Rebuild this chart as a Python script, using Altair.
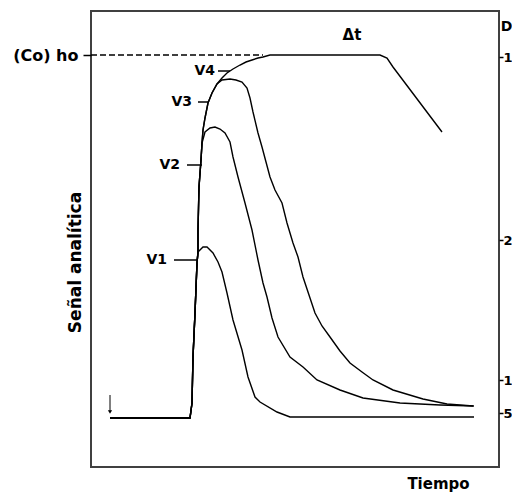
import altair as alt
import pandas as pd

FONT = "DejaVu Sans"

# ---- data (tiempo t, señal s; arbitrary units) ----
rise_t = [19, 99, 101, 102, 104, 106, 107]
rise_s = [0, 0, 15, 61, 105, 155, 166]

v1_t = [108, 112, 116, 122, 127, 131, 136, 142, 151, 157, 164, 169, 186, 199, 383]
v1_s = [167, 171, 171, 165, 156, 146, 125, 98, 68, 41, 21, 16, 6, 1, 1]

rise2_t = [107, 108, 110, 111]
rise2_s = [188, 231, 258, 275]

v2_t = [114, 119, 124, 129, 134, 139, 142, 147, 154, 161, 167, 172, 176, 181, 187,
        199, 212, 226, 249, 272, 309, 349, 383]
v2_s = [286, 290, 291, 289, 285, 276, 261, 241, 215, 188, 158, 135, 121, 100, 81,
        61, 51, 38, 28, 20, 15, 13, 12]

rise3_t = [112, 114, 117, 121, 126]
rise3_s = [288, 300, 315, 325, 334]

v3_t = [131, 139, 145, 151, 156, 159, 162, 167, 171, 175, 179, 184, 191, 196, 202,
        207, 212, 218, 224, 231, 239, 249, 259, 271, 282, 302, 332, 356, 382]
v3_s = [338, 339, 338, 336, 330, 320, 306, 285, 271, 256, 241, 228, 215, 195, 175,
        161, 141, 123, 105, 92, 81, 67, 55, 46, 38, 28, 19, 14, 12]

v4_t = [131, 136, 142, 149, 155, 161, 167, 172, 179, 289, 296, 302, 351]
v4_s = [340, 345, 349, 353, 356, 358, 360, 361, 363, 363, 360, 351, 286]

ho_level = 363
ho_dash_end = 172

label_names = ["V1", "V2", "V3", "V4"]
label_text_t = [76, 89, 101, 124]
label_tick_t0 = [83, 96, 107, 127]
label_tick_t1 = [106, 111, 117, 139]
label_s = [158, 253, 316, 347]

d_labels = ["1", "2", "10", "5"]
d_pos = [361, 178, 38, 5]

arrow_t = 19
arrow_s0 = 23
arrow_s1 = 6

dt_t, dt_s = 261, 383

# ---- build tables ----
rows = []
def add(name, ts, ss):
    for i, (a, b) in enumerate(zip(ts, ss)):
        rows.append({"serie": name, "orden": i, "t": a, "s": b})

add("V1", rise_t + v1_t, rise_s + v1_s)
add("V2", rise_t + rise2_t + v2_t, rise_s + rise2_s + v2_s)
add("V3", rise_t + rise2_t + rise3_t + v3_t, rise_s + rise2_s + rise3_s + v3_s)
add("V4", rise_t + rise2_t + rise3_t + v4_t, rise_s + rise2_s + rise3_s + v4_s)
curves = pd.DataFrame(rows)

labels = pd.DataFrame({"name": label_names, "tt": label_text_t, "t0": label_tick_t0,
                       "t1": label_tick_t1, "s": label_s})
ho = pd.DataFrame({"t0": [0], "t1": [ho_dash_end], "s": [ho_level]})
arrow = pd.DataFrame({"t": [arrow_t], "s0": [arrow_s0], "s1": [arrow_s1]})
dt = pd.DataFrame({"t": [dt_t], "s": [dt_s], "txt": ["Δt"]})

W, H = 408, 456
xs = alt.Scale(domain=[0, 408], nice=False, zero=False)
ys = alt.Scale(domain=[-49, 407], nice=False, zero=False)

x_axis = alt.Axis(title="Tiempo", domain=False, ticks=False, labels=False, grid=False,
                  titleX=347, titleY=16, titleAlign="center", titleBaseline="middle",
                  titleFont=FONT, titleFontSize=15, titleFontWeight="bold", titleColor="black")

y_left = alt.Axis(orient="left", values=[ho_level], labelExpr="'(Co) ho'", tickSize=8,
                  tickColor="black", tickWidth=1.5, labelPadding=5, domain=False, grid=False,
                  labelFont=FONT, labelFontSize=16, labelFontWeight="bold", labelColor="black",
                  title="Señal analítica", titleX=-16, titleY=251, titleAngle=-90,
                  titleAlign="center", titleBaseline="middle", titleFont=FONT,
                  titleFontSize=17, titleFontWeight="bold", titleColor="black")

expr = " : ".join(f"datum.value == {p} ? '{l}'" for p, l in zip(d_pos[:-1], d_labels[:-1])) + f" : '{d_labels[-1]}'"
y_right = alt.Axis(orient="right", values=d_pos, labelExpr=expr, tickSize=4,
                   tickColor="black", tickWidth=1.5, labelPadding=0, domain=False, grid=False,
                   labelFont=FONT, labelFontSize=13, labelFontWeight="bold", labelColor="black",
                   labelBaseline="middle",
                   title="D", titleX=7, titleY=15, titleAngle=0, titleAlign="center",
                   titleBaseline="middle", titleFont=FONT, titleFontSize=14,
                   titleFontWeight="bold", titleColor="black")

X = alt.X("t:Q", scale=xs, axis=x_axis)

lines = alt.Chart(curves).mark_line(color="black", strokeWidth=1.4).encode(
    x=X, y=alt.Y("s:Q", scale=ys, axis=y_left), detail="serie:N", order="orden:Q")

ho_line = alt.Chart(ho).mark_rule(color="black", strokeWidth=1.5, strokeDash=[6, 3]).encode(
    x=alt.X("t0:Q", scale=xs, axis=x_axis), x2="t1:Q", y=alt.Y("s:Q", scale=ys, axis=y_right))

ticks = alt.Chart(labels).mark_rule(color="black", strokeWidth=1.5).encode(
    x=alt.X("t0:Q", scale=xs, axis=x_axis), x2="t1:Q", y=alt.Y("s:Q", scale=ys, axis=None))

texts = alt.Chart(labels).mark_text(font=FONT, fontSize=14, fontWeight="bold", align="right",
                                    baseline="middle", color="black").encode(
    x=alt.X("tt:Q", scale=xs, axis=x_axis), y=alt.Y("s:Q", scale=ys, axis=None), text="name:N")

dt_text = alt.Chart(dt).mark_text(font=FONT, fontSize=15, fontWeight="bold", align="center",
                                  baseline="middle", color="black").encode(
    x=alt.X("t:Q", scale=xs, axis=x_axis), y=alt.Y("s:Q", scale=ys, axis=None), text="txt:N")

arrow_shaft = alt.Chart(arrow).mark_rule(color="black", strokeWidth=1).encode(
    x=alt.X("t:Q", scale=xs, axis=x_axis), y=alt.Y("s0:Q", scale=ys, axis=None), y2="s1:Q")

arrow_head = alt.Chart(arrow).mark_point(shape="triangle-down", filled=True, size=18,
                                         color="black", opacity=1).encode(
    x=alt.X("t:Q", scale=xs, axis=x_axis), y=alt.Y("s1:Q", scale=ys, axis=None))

chart = alt.layer(lines, ho_line, ticks, texts, dt_text, arrow_shaft, arrow_head).resolve_axis(
    y="independent"
).properties(
    width=W, height=H,
    autosize=alt.AutoSizeParams(type="none"),
    padding={"left": 83, "top": 3, "right": 13, "bottom": 25},
    background="white",
).configure_view(stroke="#404040", strokeWidth=2)

chart.save("out.html", embed_options={"renderer": "svg", "actions": False})
